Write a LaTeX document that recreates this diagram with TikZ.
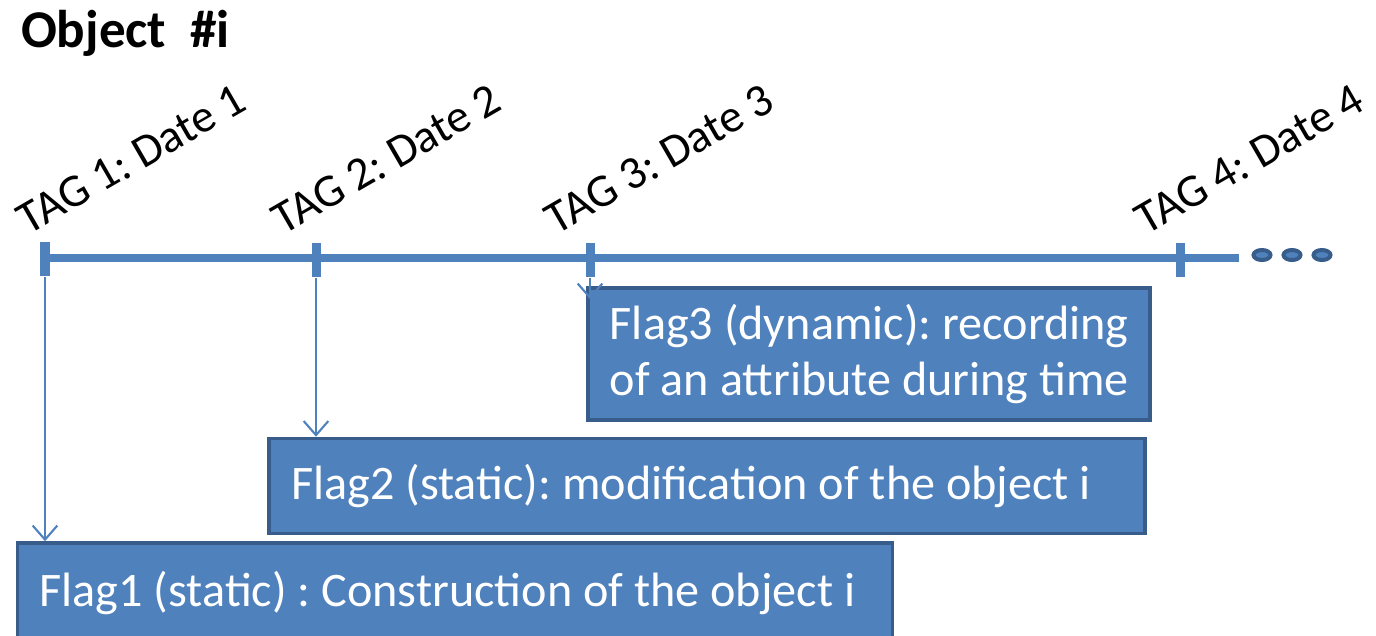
\documentclass[tikz,border=0pt]{standalone}
\usepackage{fontspec}
\setmainfont{Carlito}
\usetikzlibrary{arrows.meta, shapes.geometric}

\definecolor{flagblue}{HTML}{4F81BD}
\definecolor{flagedge}{HTML}{385D8A}

\begin{document}
\frenchspacing
\begin{tikzpicture}[
            x = 0.01cm, y = -0.01cm, % one unit = one pixel, y downwards
            > = {Straight Barb[length=4pt, width=7pt]}, % open arrow head
            line width = 0.6pt
        ]

        \tikzstyle{flag}=[
            draw = flagedge,
            line width = 0.035cm,
            fill = flagblue,
            text = white,
            font = \fontsize{13.7}{16.2}\selectfont,
            align = flush left,
            inner xsep = 0.22cm,
            inner ysep = 0pt
        ]
        \tikzstyle{tick}=[
            fill = flagblue,
            inner sep = 0pt,
            minimum width = 0.09cm,
            minimum height = 0.34cm
        ]
        \tikzstyle{tag}=[
            anchor = base west,
            rotate = 30,
            inner sep = 0pt,
            font = \fontsize{13.2}{15}\selectfont
        ]
        \tikzstyle{dot}=[
            ellipse,
            draw = flagedge,
            line width = 0.04cm,
            fill = flagblue,
            inner sep = 0pt,
            minimum width = 0.17cm,
            minimum height = 0.10cm
        ]
        \tikzstyle{link}=[
            draw = flagblue,
            line width = 0.6pt
        ]

        \useasboundingbox (0,0) rectangle (1376,635);

        \node (title) [anchor=base west, inner sep=0pt, font=\fontsize{15.1}{18}\selectfont\bfseries] at (20,47) {Object\ \ \#i};

        % time line
        \coordinate (tend) at (1239,258);
        \draw[flagblue, line width=0.08cm] (43,258) -- (tend);

        \node (t1) [tick] at (45,259) {};
        \node (t2) [tick] at (316,260) {};
        \node (t3) [tick] at (590,260) {};
        \node (t4) [tick] at (1180,260) {};

        \node (d1) [dot] at (1262,255) {};
        \node (d2) [dot] at (1292,255) {};
        \node (d3) [dot] at (1322,255) {};

        \node (tag1) [tag] at (28,236) {TAG 1: Date 1};
        \node (tag2) [tag] at (283,236) {TAG 2: Date 2};
        \node (tag3) [tag] at (556,236) {TAG 3: Date 3};
        \node (tag4) [tag] at (1146,236) {TAG 4: Date 4};

        % flags
        \node (flag3) [flag, text width=5.18cm, minimum height=1.32cm] at (869,354)
            {\mbox{Flag3 (dynamic): recording}\\\mbox{of an attribute during time}};
        \node (flag2) [flag, text width=8.31cm, minimum height=0.95cm] at (707,486)
            {Flag2 (static): modification of the object i};
        \node (flag1) [flag, text width=8.30cm, minimum height=1.00cm] at (455,593)
            {Flag1 (static) : Construction of the object i};

        \path[->] (t1.south) edge[link] (t1 |- flag1.north);
        \path[->] (t2.south) edge[link] (t2 |- flag2.north);
        \path[->, shorten > = -0.13cm] (t3.south) edge[link] (t3 |- flag3.north);

    \end{tikzpicture}
\end{document}
